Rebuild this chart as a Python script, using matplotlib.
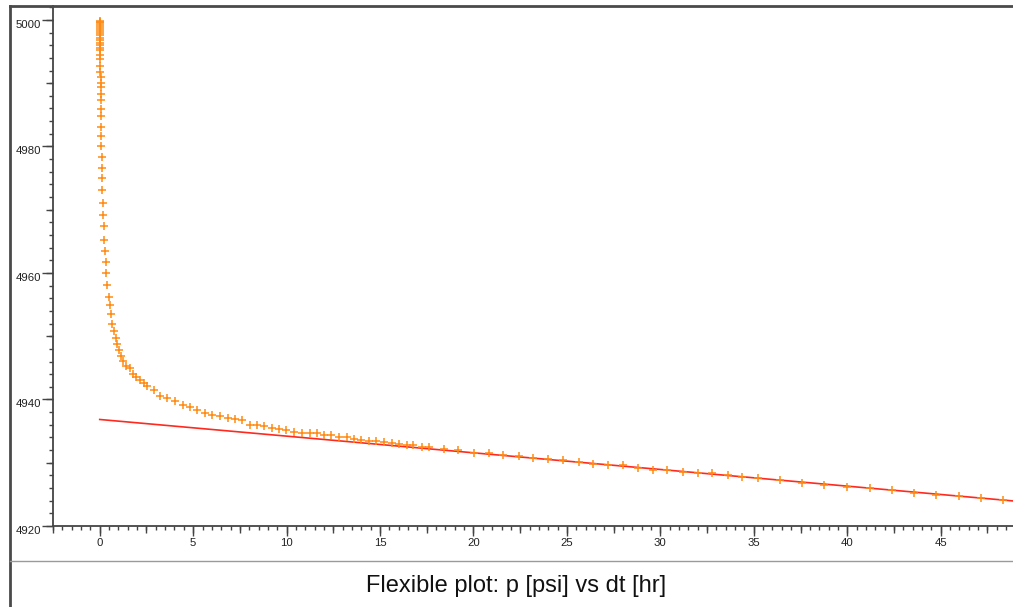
import numpy as np
import matplotlib
matplotlib.use("Agg")
import matplotlib.pyplot as plt
from matplotlib.ticker import MultipleLocator
from matplotlib.lines import Line2D
from matplotlib.transforms import ScaledTranslation

plt.rcParams['font.family'] = ['Liberation Sans', 'DejaVu Sans']

# measured points: dt [hr], p [psi]
dt = [0.001, 0.002, 0.003, 0.004, 0.005, 0.006, 0.008, 0.010, 0.012, 0.015, 0.018, 0.022, 0.026, 0.030,
      0.032, 0.034, 0.036, 0.038, 0.040, 0.043, 0.046, 0.049, 0.052, 0.055, 0.058, 0.062, 0.066,
      0.08, 0.09, 0.10, 0.115, 0.13, 0.145, 0.16, 0.18, 0.21, 0.25, 0.29, 0.32, 0.36, 0.41,
      0.48, 0.54, 0.60, 0.66,
      0.75, 0.86, 0.95, 1.03, 1.14, 1.25, 1.41, 1.61, 1.78, 1.96, 2.14, 2.36, 2.53, 2.89, 3.21,
      3.60, 4.01, 4.43, 4.82, 5.21, 5.62, 6.03, 6.42, 6.84, 7.26, 7.64,
      8.03, 8.42, 8.80, 9.22, 9.60, 9.99, 10.40, 10.80, 11.24, 11.63, 12.01, 12.40, 12.79, 13.21,
      13.61, 13.97, 14.40, 14.81, 15.22, 15.62, 16.02, 16.42, 16.77, 17.22, 17.63, 18.42, 19.18,
      20.02, 20.81, 21.59, 22.41, 23.20, 23.98, 24.80, 25.63, 26.41, 27.18, 28.01, 28.82, 29.59,
      30.37, 31.19, 31.99, 32.78, 33.62, 34.38, 35.21, 36.40, 37.60, 38.77, 39.99, 41.22, 42.40,
      43.58, 44.75, 45.97, 47.16, 48.36]
p = [4999.90, 4999.70, 4999.45, 4999.22, 4998.91, 4998.59, 4998.28, 4997.96, 4997.56, 4997.17,
     4996.77, 4996.38, 4995.98, 4995.59,
     4995.22, 4994.53, 4993.89, 4992.69, 4991.79, 4990.95, 4990.09, 4989.37, 4988.35, 4987.31,
     4985.98, 4984.78, 4983.09,
     4981.71, 4980.13, 4978.39, 4976.65, 4975.06, 4973.07, 4971.11, 4969.16, 4967.47, 4965.16,
     4963.47, 4961.68, 4959.94, 4958.04, 4956.23, 4954.92, 4953.54, 4951.91, 4950.85,
     4949.75, 4948.75, 4947.78, 4946.90, 4946.06, 4945.32, 4944.91, 4944.00, 4943.48, 4943.05,
     4942.53, 4942.10, 4941.47, 4940.57, 4940.25, 4939.78, 4939.10, 4938.83, 4938.31, 4937.88,
     4937.52, 4937.36, 4937.15, 4936.88, 4936.72,
     4936.04, 4935.93, 4935.82, 4935.51, 4935.41, 4935.25, 4934.87, 4934.78, 4934.78, 4934.67,
     4934.40, 4934.35, 4934.08, 4933.99, 4933.72, 4933.67, 4933.51, 4933.45, 4933.24, 4933.13,
     4932.93, 4932.82, 4932.82, 4932.56, 4932.45, 4932.14, 4931.98,
     4931.61, 4931.61, 4931.23, 4931.08, 4930.76, 4930.66, 4930.40, 4930.08, 4929.81, 4929.72,
     4929.60, 4929.24, 4928.92, 4928.81, 4928.61, 4928.45, 4928.34, 4928.02, 4927.71, 4927.66,
     4927.28, 4926.80, 4926.44, 4926.17, 4925.97, 4925.65, 4925.22, 4924.86, 4924.70, 4924.43,
     4924.11]

# straight line fit
line_dt = [0.0, 49.0]
line_p = [4936.84, 4923.93]

W, H = 1013, 607
fig = plt.figure(figsize=(W / 100, H / 100), dpi=100)
ax = fig.add_axes([53 / W, (H - 526) / H, 1 - 53 / W, (526 - 6) / H])

ax.plot(line_dt, line_p, color='#ff2a1f', lw=1.2, zorder=2)
ax.plot(dt, p, linestyle='none', marker='+', markersize=6, markeredgewidth=1.1,
        color='#ff8a14', zorder=3)

ax.set_xlim(-2.5, 48.87)
ax.set_ylim(4920, 5002.2)

ax.spines['top'].set_visible(False)
ax.spines['right'].set_visible(False)
for s in ['left', 'bottom']:
    ax.spines[s].set_color('#444444')
    ax.spines[s].set_linewidth(1.3)

ax.xaxis.set_major_locator(MultipleLocator(5))
ax.xaxis.set_minor_locator(MultipleLocator(0.5))
ax.yaxis.set_major_locator(MultipleLocator(20))
ax.yaxis.set_minor_locator(MultipleLocator(2))
ax.tick_params(which='major', width=1, color='#444444', labelsize=8.2, labelcolor='#222222')
ax.tick_params(axis='x', which='major', length=7, pad=2)
ax.tick_params(axis='y', which='major', length=8, pad=0.5)
ax.tick_params(which='minor', length=3, width=1, color='#444444')

# y labels sit a little below their ticks
for lab in ax.get_yticklabels():
    lab.set_transform(lab.get_transform() + ScaledTranslation(0, -0.04, fig.dpi_scale_trans))

# medium ticks
secx = ax.secondary_xaxis('bottom')
secx.xaxis.set_major_locator(MultipleLocator(2.5))
secx.tick_params(length=5, width=1, color='#444444', labelbottom=False)
secx.spines['bottom'].set_visible(False)
secy = ax.secondary_yaxis('left')
secy.yaxis.set_major_locator(MultipleLocator(10))
secy.tick_params(length=5, width=1, color='#444444', labelleft=False)
secy.spines['left'].set_visible(False)

# outer frame and separator
fig.add_artist(Line2D([10 / W, 10 / W], [0, 1 - 6 / H], transform=fig.transFigure,
                      color='#4a4a4a', lw=2))
fig.add_artist(Line2D([10 / W, 1], [1 - 6 / H, 1 - 6 / H], transform=fig.transFigure,
                      color='#4a4a4a', lw=2))
fig.add_artist(Line2D([10 / W, 1], [1 - 561 / H, 1 - 561 / H], transform=fig.transFigure,
                      color='#9a9a9a', lw=1))

fig.text(516 / W, 1 - 586 / H, 'Flexible plot: p [psi] vs dt [hr]', ha='center', va='center',
         fontsize=17, color='#111111')

fig.savefig('out.png', dpi=100)
